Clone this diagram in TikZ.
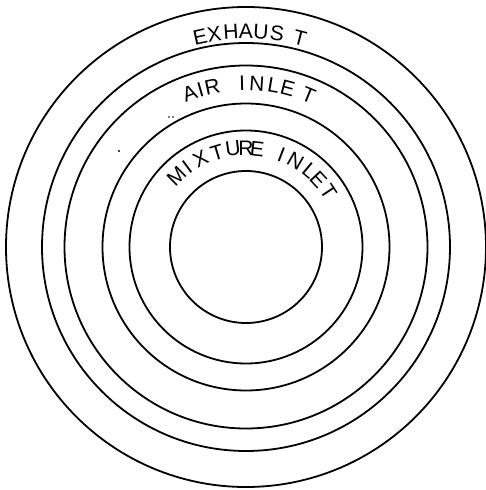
\documentclass[tikz,border=0pt]{standalone}
\usepackage{fontspec}
\setmainfont{Liberation Sans}
\begin{document}
\begin{tikzpicture}[x=1pt,y=1pt,
  ring/.style={line width=1.8pt},
  lett/.style={font=\fontsize{21}{24}\selectfont, inner sep=0pt, anchor=center},
  speck/.style={fill=black}]
\useasboundingbox (-246,-243) rectangle (239,247);
\foreach \r in {76,116.5,143.5,181.5,204,240}
  \draw[ring] (0,0) circle[radius=\r];
% EXHAUST
\foreach \a/\c [count=\i] in {-12.3/E,-8.5/X,-4.0/H,0/A,4.0/U,8.3/S,14.5/T}
  \node[lett, rotate=-\a] (ex\i) at ({90-\a}:215.5) {\c};
% AIR INLET
\foreach \a/\c [count=\i] in {-20.1/A,-16.1/I,-11.9/R,-1.4/I,3.8/N,9.7/L,14.7/E,22.4/T}
  \node[lett, rotate=-\a] (ai\i) at ({90-\a}:164) {\c};
% MIXTURE INLET
\foreach \a/\c [count=\i] in {-44.6/M,-36.5/I,-27.4/X,-17/T,-7.5/U,0/R,6.5/E,21/I,30/N,40/L,47/E,56.5/T}
  \node[lett, rotate=-\a] (mi\i) at ({90-\a}:99) {\c};
% specks
\fill[speck] (-127,96) circle[radius=1.1];
\fill[speck] (-77,130) circle[radius=0.9];
\fill[speck] (-73,130) circle[radius=0.8];
\end{tikzpicture}
\end{document}
